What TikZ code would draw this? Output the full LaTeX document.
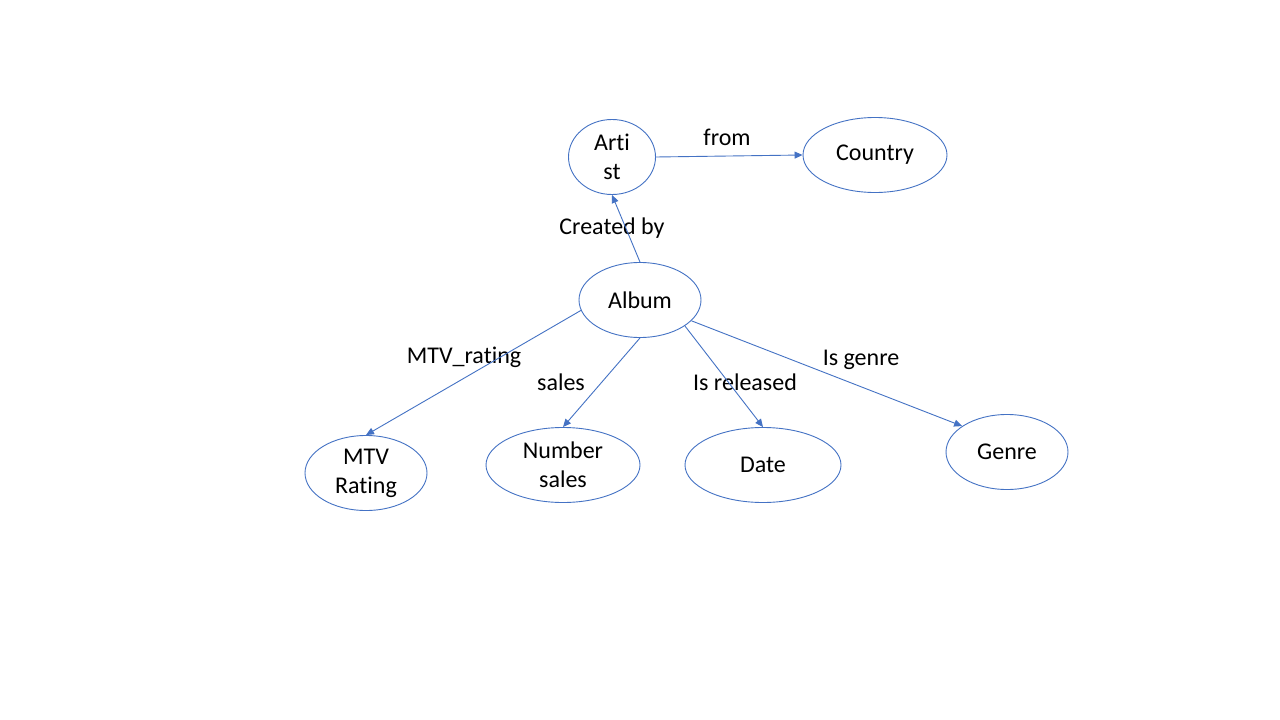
\documentclass[tikz,border=0pt]{standalone}
\usepackage{fontspec}
\setmainfont[Ligatures=NoCommon]{Carlito}
\usepackage{xcolor}
\usetikzlibrary{arrows.meta,shapes.geometric}
\definecolor{linkblue}{HTML}{4472C4}
\newcommand{\nolig}{\kern0pt}

\begin{document}
\begin{tikzpicture}[
x=1pt, y=-1pt,
every node/.style={font=\fontsize{24}{29}\selectfont},
entity/.style={draw=linkblue, line width=0.9pt, ellipse, inner sep=0pt, align=center, minimum height=75pt},
relname/.style={inner sep=0pt, anchor=center},
arrow/.style={-{Triangle[length=8pt, width=7pt]}, draw=linkblue, line width=0.9pt}
]
\useasboundingbox[fill=white] (0,0) rectangle (1280,720);
\node[entity, minimum width=87pt] (artist) at (612,157) {Art\nolig i\\st};
\node[entity, minimum width=144pt] (country) at (875,155) {Country};
\node[entity, minimum width=122pt] (album) at (640,300) {Album};
\node[entity, minimum width=122pt] (mtv) at (366,473) {MTV\\Rat\nolig ing};
\node[entity, minimum width=154pt] (sales) at (563,465) {Number\\sales};
\node[entity, minimum width=156pt] (date) at (763,465) {Date};
\node[entity, minimum width=122pt] (genre) at (1007,452) {Genre};
\node[relname] (lfrom) at (727,137) {from};
\node[relname] (lcreated) at (612,228) {Created by};
\node[relname] (lmtv) at (464,357) {MTV\_rat\nolig ing};
\node[relname] (lsales) at (561,382) {sales};
\node[relname] (lreleased) at (745,382) {Is released};
\node[relname] (lgenre) at (861,360) {Is genre};
\draw[arrow] (artist.east) -- (country.west);
\draw[arrow] (album.north) -- (artist.south);
\draw[arrow] (album.190) -- (mtv.north);
\draw[arrow] (album.south) -- (sales.north);
\draw[arrow] (album.330) -- (date.north);
\draw[arrow] (album.338) -- (genre.150);
\end{tikzpicture}
\end{document}
